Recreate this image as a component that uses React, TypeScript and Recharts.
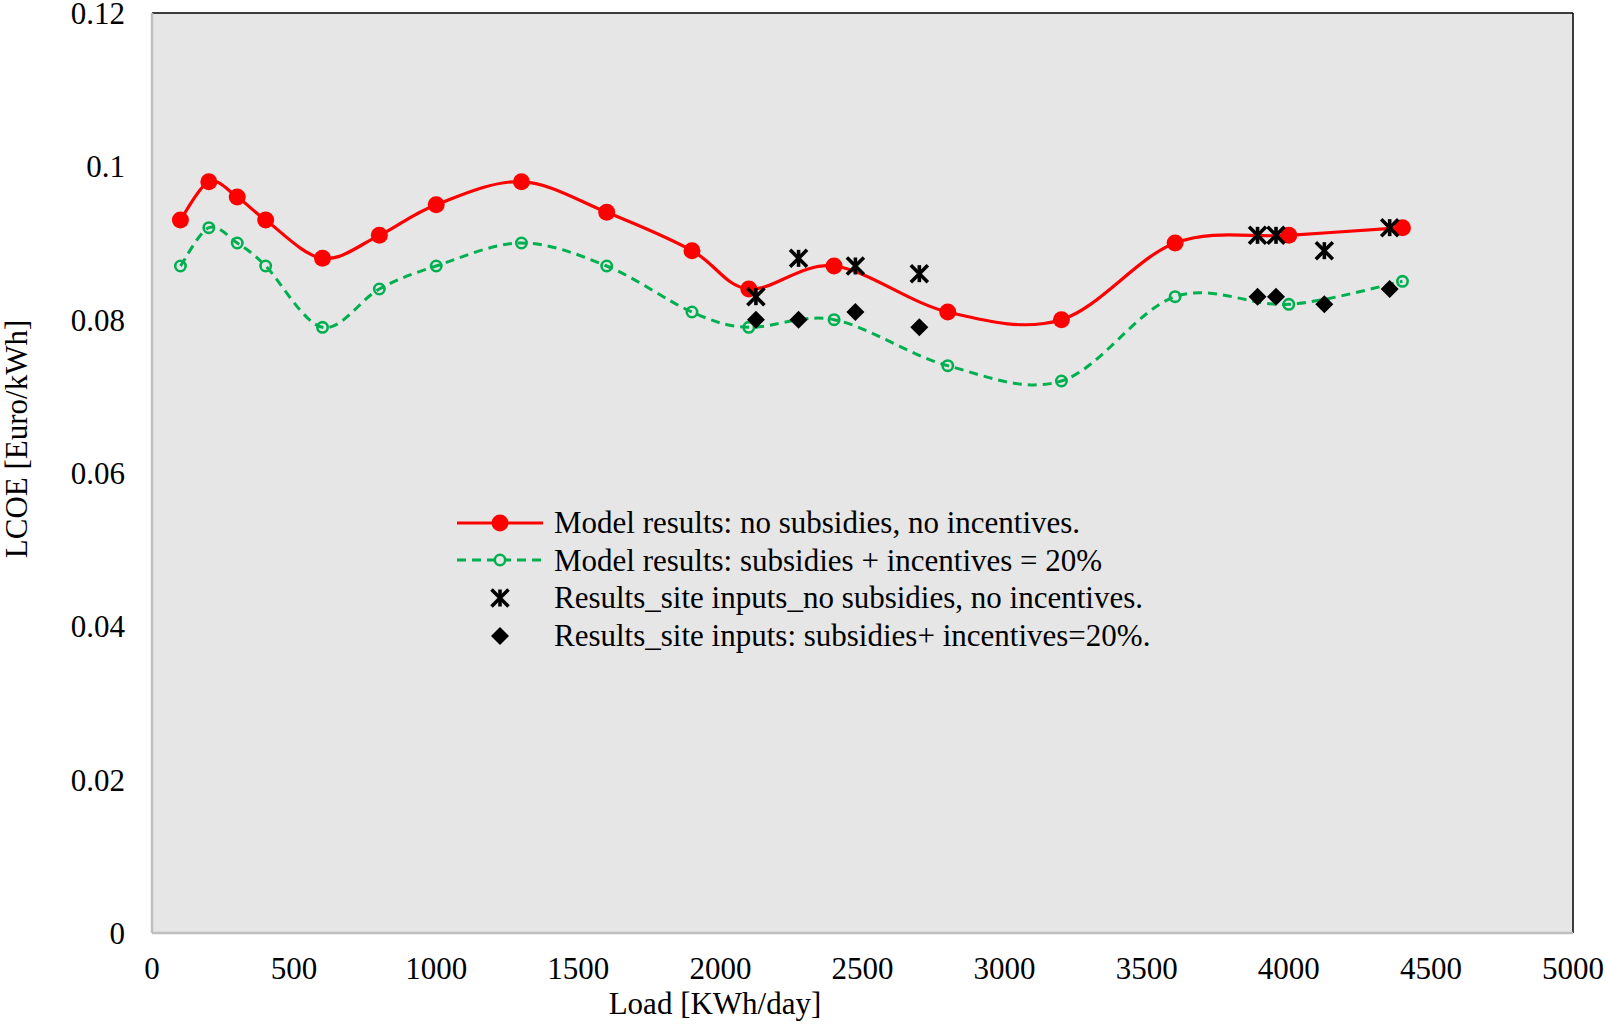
import React from "react";
import {
  ComposedChart,
  Line,
  Scatter,
  XAxis,
  YAxis,
  CartesianGrid,
  ReferenceLine,
} from "recharts";

const loads = [100, 200, 300, 400, 600, 800, 1000, 1300, 1600, 1900, 2100, 2400, 2800, 3200, 3600, 4000, 4400];
const noSubsidies = [0.093, 0.098, 0.096, 0.093, 0.088, 0.091, 0.095, 0.098, 0.094, 0.089, 0.084, 0.087, 0.081, 0.08, 0.09, 0.091, 0.092];
const withSubsidies = [0.087, 0.092, 0.09, 0.087, 0.079, 0.084, 0.087, 0.09, 0.087, 0.081, 0.079, 0.08, 0.074, 0.072, 0.083, 0.082, 0.085];

const siteLoads = [2125, 2275, 2475, 2700, 3890, 3955, 4125, 4355];
const siteNoSubsidies = [0.083, 0.088, 0.087, 0.086, 0.091, 0.091, 0.089, 0.092];
const siteWithSubsidies = [0.08, 0.08, 0.081, 0.079, 0.083, 0.083, 0.082, 0.084];

const xTicks = [0, 500, 1000, 1500, 2000, 2500, 3000, 3500, 4000, 4500, 5000];
const yTicks = [0, 0.02, 0.04, 0.06, 0.08, 0.1, 0.12];

const legendLabels = [
  "Model results: no subsidies, no incentives.",
  "Model results: subsidies + incentives = 20%",
  "Results_site inputs_no subsidies, no incentives.",
  "Results_site inputs: subsidies+ incentives=20%.",
];

const modelA = loads.map((x, i) => ({ x, y: noSubsidies[i] }));
const modelB = loads.map((x, i) => ({ x, y: withSubsidies[i] }));
const siteA = siteLoads.map((x, i) => ({ x, y: siteNoSubsidies[i] }));
const siteB = siteLoads.map((x, i) => ({ x, y: siteWithSubsidies[i] }));

const FONT = "'Liberation Serif', 'Times New Roman', serif";
const FS = 31;
const RED = "#FF0000";
const GREEN = "#00B050";
const BG = "#E6E6E6";

// Excel-like smoothing (Catmull-Rom style bezier)
const excelCurve: any = (context: any) => {
  let pts: number[][] = [];
  return {
    areaStart() {},
    areaEnd() {},
    lineStart() {
      pts = [];
    },
    lineEnd() {
      const n = pts.length;
      if (n === 0) return;
      context.moveTo(pts[0][0], pts[0][1]);
      for (let i = 0; i < n - 1; i++) {
        const p0 = pts[i - 1] || pts[i];
        const p1 = pts[i];
        const p2 = pts[i + 1];
        const p3 = pts[i + 2] || p2;
        context.bezierCurveTo(
          p1[0] + (p2[0] - p0[0]) / 6,
          p1[1] + (p2[1] - p0[1]) / 6,
          p2[0] - (p3[0] - p1[0]) / 6,
          p2[1] - (p3[1] - p1[1]) / 6,
          p2[0],
          p2[1]
        );
      }
    },
    point(x: number, y: number) {
      pts.push([+x, +y]);
    },
  };
};

const StarMark = (props: any) => {
  const { cx, cy } = props;
  if (cx == null || cy == null) return null;
  const s = 8.5;
  return (
    <g stroke="#000" strokeWidth={3.6}>
      <line x1={cx - s} y1={cy - s} x2={cx + s} y2={cy + s} />
      <line x1={cx - s} y1={cy + s} x2={cx + s} y2={cy - s} />
      <line x1={cx} y1={cy - s} x2={cx} y2={cy + s} />
    </g>
  );
};

const DiamondMark = (props: any) => {
  const { cx, cy } = props;
  if (cx == null || cy == null) return null;
  const s = 9;
  return <path d={`M${cx},${cy - s} L${cx + s},${cy} L${cx},${cy + s} L${cx - s},${cy} Z`} fill="#000" />;
};

const LegendBox = () => {
  const icons = [
    <g key="a">
      <line x1={8} y1={18} x2={94} y2={18} stroke={RED} strokeWidth={3.2} />
      <circle cx={51} cy={18} r={8.5} fill={RED} />
    </g>,
    <g key="b">
      <line x1={8} y1={18} x2={94} y2={18} stroke={GREEN} strokeWidth={3} strokeDasharray="9 6" />
      <circle cx={51} cy={18} r={5.2} fill={BG} stroke={GREEN} strokeWidth={2.6} />
    </g>,
    <g key="c">{StarMark({ cx: 51, cy: 18 })}</g>,
    <g key="d">{DiamondMark({ cx: 51, cy: 18 })}</g>,
  ];
  return (
    <div
      style={{
        position: "absolute",
        left: 449,
        top: 504,
        fontFamily: FONT,
        fontSize: FS,
        color: "#000",
        lineHeight: 1,
      }}
    >
      {legendLabels.map((t, i) => (
        <div key={t} style={{ display: "flex", alignItems: "center", height: 37.6, whiteSpace: "nowrap" }}>
          <svg width={105} height={36} style={{ flex: "none", display: "block" }}>
            {icons[i]}
          </svg>
          <span>{t}</span>
        </div>
      ))}
    </div>
  );
};

export default function App() {
  return (
    <div style={{ position: "relative", width: 1606, height: 1024, overflow: "hidden" }}>
      <style>{"html,body{margin:0;padding:0;overflow:hidden;}"}</style>
      <ComposedChart
        width={1606}
        height={1024}
        margin={{ top: 13, right: 33, left: 0, bottom: 41 }}
      >
        <CartesianGrid fill={BG} horizontal={false} vertical={false} />
        <XAxis
          type="number"
          dataKey="x"
          domain={[0, 5000]}
          ticks={xTicks}
          interval={0}
          height={50}
          tickLine={false}
          tickMargin={18}
          axisLine={{ stroke: "#BFBFBF", strokeWidth: 2.5 }}
          tick={{ fontFamily: FONT, fontSize: FS, fill: "#000" }}
          allowDataOverflow
          label={{
            content: () => (
              <text x={715} y={1014} textAnchor="middle" fontFamily={FONT} fontSize={FS} fill="#000">
                Load [KWh/day]
              </text>
            ),
          }}
        />
        <YAxis
          type="number"
          dataKey="y"
          domain={[0, 0.12]}
          ticks={yTicks}
          interval={0}
          width={152}
          tickLine={false}
          tickMargin={21}
          axisLine={{ stroke: "#BFBFBF", strokeWidth: 2.5 }}
          tick={{ fontFamily: FONT, fontSize: FS, fill: "#000" }}
          tickFormatter={(v: number) => String(+v.toFixed(2))}
          allowDataOverflow
          label={{
            content: () => (
              <text
                x={16}
                y={439}
                textAnchor="middle"
                dominantBaseline="central"
                transform="rotate(-90 16 439)"
                fontFamily={FONT}
                fontSize={FS}
                fill="#000"
              >
                LCOE [Euro/kWh]
              </text>
            ),
          }}
        />
        <ReferenceLine y={0.12} stroke="#000" strokeWidth={1.5} ifOverflow="visible" />
        <ReferenceLine x={5000} stroke="#000" strokeWidth={1.5} ifOverflow="visible" />
        <Line
          data={modelB}
          dataKey="y"
          type={excelCurve}
          stroke={GREEN}
          strokeWidth={3}
          strokeDasharray="9 6"
          dot={{ r: 5.2, fill: "none", stroke: GREEN, strokeWidth: 2.6, strokeDasharray: "" }}
          activeDot={false}
          isAnimationActive={false}
          legendType="none"
        />
        <Line
          data={modelA}
          dataKey="y"
          type={excelCurve}
          stroke={RED}
          strokeWidth={3.2}
          dot={{ r: 8.5, fill: RED, stroke: "none" }}
          activeDot={false}
          isAnimationActive={false}
          legendType="none"
        />
        <Scatter data={siteA} dataKey="y" shape={StarMark} isAnimationActive={false} legendType="none" />
        <Scatter data={siteB} dataKey="y" shape={DiamondMark} isAnimationActive={false} legendType="none" />
      </ComposedChart>
      <LegendBox />
    </div>
  );
}
